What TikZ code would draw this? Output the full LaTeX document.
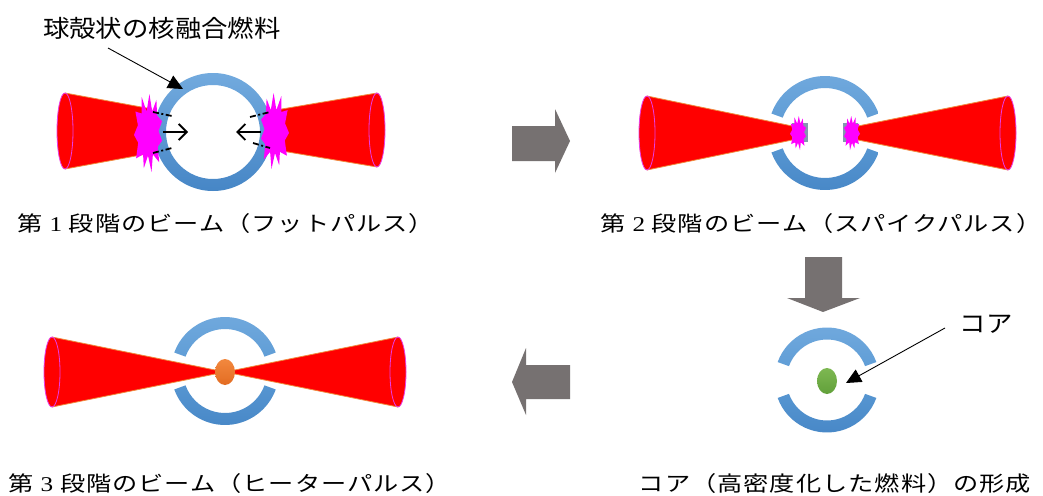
\documentclass[tikz,border=0pt]{standalone}
\usepackage{fontspec}
\usetikzlibrary{arrows.meta,shapes.geometric}
\newfontfamily\jpfont{Noto Sans CJK JP}
\newfontfamily\jpcapfont[LetterSpace=4]{Noto Sans CJK JP}
\newfontfamily\numfont{Liberation Serif}
\definecolor{beamred}{HTML}{FF0000}
\definecolor{beamedge}{HTML}{F08A3C}
\definecolor{beamrim}{HTML}{E83CE8}
\definecolor{burstmag}{HTML}{FF00FF}
\definecolor{ringtop}{HTML}{72AADE}
\definecolor{ringmid}{HTML}{5B9AD4}
\definecolor{ringbot}{HTML}{4686C6}
\definecolor{stepgray}{HTML}{767171}
\definecolor{ablgray}{HTML}{8497B0}
\definecolor{greenA}{HTML}{7DB852}
\definecolor{greenB}{HTML}{62A03A}
\definecolor{orangeA}{HTML}{F2883E}
\definecolor{orangeB}{HTML}{E36C22}
% laser cone: #1 cx, #2 cy, #3 rim half height, #4 narrow end x, #5 narrow end half width
\newcommand\conebeam[5]{%
  \fill[beamred] (#1,#2-#3) -- (#4,#2-#5) -- (#4,#2+#5) -- (#1,#2+#3) -- cycle;
  \fill[beamred] (#1,#2) ellipse[x radius=8,y radius=#3];
  \draw[beamedgeline] (#1,#2-#3) -- (#4,#2-#5) (#4,#2+#5) -- (#1,#2+#3);
  \draw[beamrimline] (#1,#2) ellipse[x radius=8,y radius=#3];}
% open shell: #1 cx, #2 cy, #3 outer radius, #4 inner radius
\newcommand\splitshell[4]{%
  \shade[top color=ringtop,bottom color=ringmid] (#1,#2) ++(-160:#3)
    arc[start angle=-160,end angle=-20,radius=#3] -- ++(-20:#4-#3)
    arc[start angle=-20,end angle=-160,radius=#4] -- cycle;
  \shade[top color=ringmid,bottom color=ringbot] (#1,#2) ++(160:#3)
    arc[start angle=160,end angle=20,radius=#3] -- ++(20:#4-#3)
    arc[start angle=20,end angle=160,radius=#4] -- cycle;}
\tikzset{
  beamedgeline/.style={draw=beamedge,line width=0.8pt},
  beamrimline/.style={draw=beamrim,line width=0.8pt},
  burst/.pic={\fill[burstmag] (0.1,-1) -- (0.3,-0.55) -- (0.6,-0.85) -- (0.65,-0.45)
    -- (1,-0.3) -- (0.75,-0.05) -- (1,0.2) -- (0.7,0.35) -- (0.8,0.75) -- (0.35,0.55)
    -- (0.25,1) -- (0,0.58) -- (-0.3,0.9) -- (-0.35,0.55) -- (-0.85,0.65) -- (-0.7,0.25)
    -- (-1,0.05) -- (-0.72,-0.2) -- (-0.9,-0.55) -- (-0.45,-0.5) -- (-0.45,-0.92)
    -- (-0.1,-0.55) -- cycle;},
  blockarrow/.style={fill=stepgray},
  callout/.style={draw=black,line width=0.9pt,-{Triangle[length=15pt,width=14pt]}},
  pushline/.style={draw=black,line width=1.9pt,-{Straight Barb[length=8pt,width=16pt]}},
  pathline/.style={draw=black,line width=1.8pt,dash pattern=on 6pt off 2.5pt on 2pt off 2.5pt},
  captext/.style={inner sep=0pt,font=\jpcapfont\fontsize{21}{24}\selectfont},
  lbltext/.style={inner sep=0pt,font=\jpfont\fontsize{24}{28}\selectfont},
}
\newcommand\capline[1]{\scalebox{1.2}[1]{#1}}
\begin{document}
\begin{tikzpicture}[x=1pt,y=-1pt]
\useasboundingbox (0,0) rectangle (1043,495);
\fill[white] (0,0) rectangle (1043,495);

% ---- stage 1: foot pulse on the spherical shell
\conebeam{65}{131}{38}{152}{22}
\conebeam{377}{130}{37}{270}{19}
\coordinate (shell1) at (213,132);
\shade[top color=ringtop,bottom color=ringbot,even odd rule]
  (shell1) circle[radius=59] (shell1) circle[radius=47];
\pic[xscale=14,yscale=39] at (148,133) {burst};
\pic[xscale=-14,yscale=38] at (275,131) {burst};
\draw[pathline] (153,112) -- (172,116) (153,153) -- (172,148);
\draw[pathline] (250,117) -- (270,112) (253,143) -- (270,148);
\coordinate (pushLa) at (163,132); \coordinate (pushLb) at (188,132);
\coordinate (pushRa) at (261,132); \coordinate (pushRb) at (236,132);
\draw[pushline] (pushLa) -- (pushLb);
\draw[pushline] (pushRa) -- (pushRb);
\node[lbltext] (shelllabel) at (162,28) {\scalebox{1.1}[1]{球殻状の核融合燃料}};
\coordinate (shellfrom) at (108,48);
\coordinate (shellto) at (183,89);
\draw[callout] (shellfrom) -- (shellto);
\node[captext] (cap1) at (226,224) {\capline{第 {\numfont 1} 段階のビーム（フットパルス）}};

% ---- arrow to stage 2
\fill[blockarrow] (512,126) -- (555,126) -- (555,109) -- (570,141) -- (555,173)
  -- (555,161) -- (512,161) -- cycle;

% ---- stage 2: spike pulse
\conebeam{647}{133}{37}{797}{6}
\conebeam{1008}{133}{37}{853}{6}
\splitshell{825}{133}{57}{45}
\fill[ablgray] (792,123) rectangle (808,142);
\fill[ablgray] (843,123) rectangle (858,142);
\pic[xscale=8,yscale=17] at (798,133) {burst};
\pic[xscale=-8,yscale=17] at (852,133) {burst};
\node[captext] (cap2) at (821,224) {\capline{第 {\numfont 2} 段階のビーム（スパイクパルス）}};

% ---- arrow down to core formation
\fill[blockarrow] (805,257) -- (842,257) -- (842,298) -- (860,298) -- (823,312)
  -- (787,298) -- (805,298) -- cycle;

% ---- core formation
\splitshell{827}{380}{52.5}{40.5}
\node[ellipse,minimum width=20pt,minimum height=26pt,inner sep=0pt,
  top color=greenA,bottom color=greenB] (core) at (827,381) {};
\node[lbltext] (corelabel) at (986,324) {\scalebox{1.1}[1]{コア}};
\coordinate (corefrom) at (945,328);
\coordinate (coreto) at (846,383);
\draw[callout] (corefrom) -- (coreto);
\node[captext] (cap4) at (835,484) {\capline{コア（高密度化した燃料）の形成}};

% ---- arrow back to stage 3
\fill[blockarrow] (570,365) -- (526,365) -- (526,348) -- (512,382) -- (526,415)
  -- (526,399) -- (570,399) -- cycle;

% ---- stage 3: heater pulse
\conebeam{52}{372}{35}{225}{0}
\conebeam{398}{372}{35}{225}{0}
\splitshell{225}{371}{54}{42}
\node[ellipse,minimum width=20pt,minimum height=26pt,inner sep=0pt,
  top color=orangeA,bottom color=orangeB] (hotcore) at (225,372) {};
\node[captext] (cap3) at (230,484) {\capline{第 {\numfont 3} 段階のビーム（ヒーターパルス）}};
\end{tikzpicture}
\end{document}
